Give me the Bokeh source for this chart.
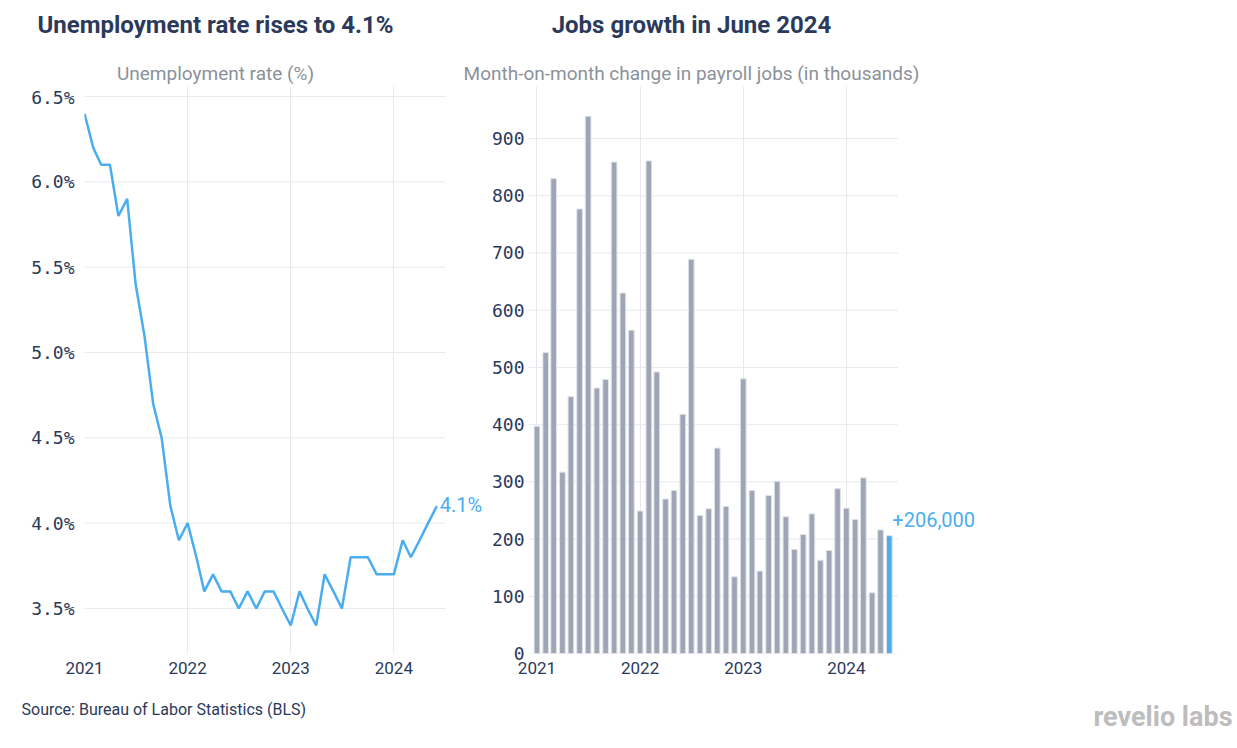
import pandas as pd
from bokeh.plotting import figure
from bokeh.models import (ColumnDataSource, Range1d, FixedTicker, DatetimeTickFormatter,
                          PrintfTickFormatter, Label)
from bokeh.layouts import row, column
from bokeh.embed import file_html
from bokeh.resources import INLINE

# ---------------- data ----------------
months = pd.date_range("2021-01-01", "2024-06-01", freq="MS")

unemployment_rate = [
    6.4, 6.2, 6.1, 6.1, 5.8, 5.9, 5.4, 5.1, 4.7, 4.5, 4.1, 3.9,
    4.0, 3.8, 3.6, 3.7, 3.6, 3.6, 3.5, 3.6, 3.5, 3.6, 3.6, 3.5,
    3.4, 3.6, 3.5, 3.4, 3.7, 3.6, 3.5, 3.8, 3.8, 3.8, 3.7, 3.7,
    3.7, 3.9, 3.8, 3.9, 4.0, 4.1,
]

payroll_change = [
    397, 526, 830, 317, 449, 777, 939, 464, 479, 859, 630, 565,
    249, 861, 492, 270, 285, 418, 689, 241, 253, 359, 257, 134,
    480, 285, 144, 276, 301, 239, 182, 208, 244, 163, 180, 288,
    254, 234, 307, 106, 216, 206,
]

year_ticks = ["2021", "2022", "2023", "2024"]
rate_ticks = [3.5, 4.0, 4.5, 5.0, 5.5, 6.0, 6.5]
jobs_ticks = [0, 100, 200, 300, 400, 500, 600, 700, 800, 900]

left_title = "Unemployment rate rises to 4.1%"
left_subtitle = "Unemployment rate (%)"
right_title = "Jobs growth in June 2024"
right_subtitle = "Month-on-month change in payroll jobs (in thousands)"
source_text = "Source: Bureau of Labor Statistics (BLS)"
logo_text = "revelio labs"
last_rate_label = "4.1%"
last_jobs_label = "+206,000"

# ---------------- styles ----------------
BLUE = "#4aadf0"
GREY_BAR = "#9ea5b4"
NAVY = "#2b3a5b"
SUB = "#8c9199"
GRID = "#e8e9ee"
DAY_PX = 103.2 / 365.25          # horizontal scale, pixels per day
GRID_END = pd.Timestamp("2024-07-01")

def ms(s):
    return pd.Timestamp(s).value // 10**6

year_tick_ms = [ms(f"{y}-01-01") for y in year_ticks]

def style(p, ystandoff):
    p.background_fill_color = "white"
    p.border_fill_color = "white"
    p.outline_line_color = None
    for ax in (p.xaxis[0], p.yaxis[0]):
        ax.axis_line_color = None
        ax.major_tick_line_color = None
        ax.minor_tick_line_color = None
        ax.major_tick_out = 0
        ax.major_tick_in = 0
        ax.major_label_text_color = NAVY
    p.xaxis.major_label_text_font = "Roboto"
    p.xaxis.major_label_text_font_size = "17px"
    p.xaxis.major_label_standoff = 8
    p.yaxis.major_label_text_font = "DejaVu Sans Mono"
    p.yaxis.major_label_text_font_size = "18px"
    p.yaxis.major_label_standoff = ystandoff
    p.xgrid.grid_line_color = GRID
    p.ygrid.grid_line_color = None
    p.xaxis.ticker = FixedTicker(ticks=year_tick_ms)
    p.xaxis.formatter = DatetimeTickFormatter(years="%Y", months="%Y", days="%Y")

def hgrid(p, start, ticks):
    src = ColumnDataSource(dict(x0=[start] * len(ticks), x1=[GRID_END] * len(ticks), y=ticks))
    r = p.segment(x0="x0", x1="x1", y0="y", y1="y", source=src, line_color=GRID, line_width=1)
    r.level = "underlay"

def text_panel(width, height):
    p = figure(width=width, height=height, output_backend="svg", toolbar_location=None,
               x_axis_location=None, y_axis_location=None,
               x_range=Range1d(0, 1), y_range=Range1d(0, 1),
               min_border=0, min_border_left=0, min_border_right=0,
               min_border_top=0, min_border_bottom=0)
    p.outline_line_color = None
    p.grid.visible = False
    p.background_fill_color = "white"
    p.border_fill_color = "white"
    return p

def text(p, x, y, t, size, color, align="left", style="normal"):
    p.add_layout(Label(x=x, y=y, x_units="screen", y_units="screen", text=t,
                       text_font="Roboto", text_font_size=size, text_color=color,
                       text_align=align, text_baseline="middle", text_font_style=style))

# ---------------- header ----------------
header = text_panel(1237, 86)
text(header, 215, 62, left_title, "24px", NAVY, align="center", style="bold")
text(header, 215, 13, left_subtitle, "19px", SUB, align="center")
text(header, 691, 62, right_title, "24px", NAVY, align="center", style="bold")
text(header, 691, 13, right_subtitle, "19px", SUB, align="center")

# ---------------- left: unemployment ----------------
x1_start = pd.Timestamp("2021-01-01")
src1 = ColumnDataSource(dict(month=months, rate=unemployment_rate))
p1 = figure(width=488, height=600, output_backend="svg", toolbar_location=None,
            x_axis_type="datetime",
            x_range=Range1d(x1_start, x1_start + pd.Timedelta(days=402 / DAY_PX)),
            y_range=Range1d(3.236, 6.559),
            min_border_left=84, min_border_right=2, min_border_top=0, min_border_bottom=33)
style(p1, 10)
hgrid(p1, x1_start, rate_ticks)
p1.yaxis.ticker = FixedTicker(ticks=rate_ticks)
p1.yaxis.formatter = PrintfTickFormatter(format="%.1f%%")
p1.line("month", "rate", source=src1, line_color=BLUE, line_width=2.5)
p1.add_layout(Label(x=months[-1], y=unemployment_rate[-1], text=last_rate_label,
                    x_offset=3, y_offset=1, text_font="Roboto", text_font_size="20px",
                    text_color=BLUE, text_baseline="middle"))

# ---------------- right: payroll ----------------
x2_start = pd.Timestamp("2020-12-02")
bar_colors = [GREY_BAR] * (len(payroll_change) - 1) + [BLUE]
src2 = ColumnDataSource(dict(month=months, jobs=payroll_change, color=bar_colors))
p2 = figure(width=749, height=600, output_backend="svg", toolbar_location=None,
            x_axis_type="datetime",
            x_range=Range1d(x2_start, x2_start + pd.Timedelta(days=704 / DAY_PX)),
            y_range=Range1d(0, 991),
            min_border_left=40, min_border_right=5, min_border_top=0, min_border_bottom=33)
style(p2, 4)
hgrid(p2, x2_start, jobs_ticks)
p2.yaxis.ticker = FixedTicker(ticks=jobs_ticks)
p2.vbar(x="month", top="jobs", bottom=0, width=20 * 24 * 3600 * 1000, source=src2,
        fill_color="color", line_color="#dfe2e8", line_width=1)
p2.add_layout(Label(x=months[-1], y=payroll_change[-1], text=last_jobs_label,
                    x_offset=3, y_offset=16, text_font="Roboto", text_font_size="20px",
                    text_color=BLUE, text_baseline="middle"))

# ---------------- footer ----------------
footer = text_panel(1237, 62)
text(footer, 21, 39, source_text, "16px", NAVY)
text(footer, 1232, 32, logo_text, "27px", "#bdbdbd", align="right", style="bold")

layout = column(header, row(p1, p2), footer)
open("out.html", "w").write(file_html(layout, INLINE))
